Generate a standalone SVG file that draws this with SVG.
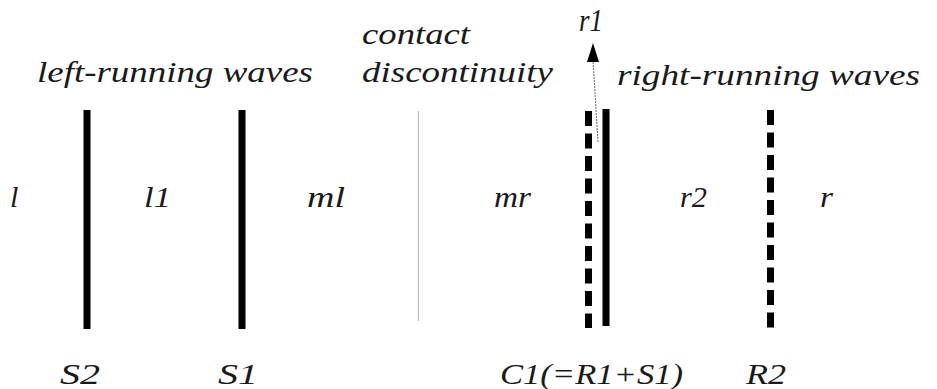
<svg xmlns="http://www.w3.org/2000/svg" width="937" height="389" viewBox="0 0 937 389">
<style>
text{font-family:"Liberation Serif","DejaVu Serif",serif;font-style:italic;font-size:30px;fill:#1a1a1a}
.thick{stroke:#000;stroke-width:7;fill:none}
.dash{stroke:#000;stroke-width:7;stroke-dasharray:15 7.5;fill:none}
</style>
<rect width="937" height="389" fill="#fff"/>
<g id="labels-top">
<text x="37" y="82" textLength="276" lengthAdjust="spacingAndGlyphs">left-running waves</text>
<text x="362" y="44" textLength="108" lengthAdjust="spacingAndGlyphs">contact</text>
<text x="362" y="82" textLength="191" lengthAdjust="spacingAndGlyphs">discontinuity</text>
<text x="617" y="85" textLength="303" lengthAdjust="spacingAndGlyphs">right-running waves</text>
<text x="579" y="31" textLength="24" lengthAdjust="spacingAndGlyphs" style="font-size:32px">r1</text>
</g>
<g id="S2"><line class="thick" x1="87" y1="110" x2="87" y2="329"/><text x="60" y="384" textLength="40" lengthAdjust="spacingAndGlyphs">S2</text></g>
<g id="S1"><line class="thick" x1="242" y1="110" x2="242" y2="329"/><text x="218" y="384" textLength="40" lengthAdjust="spacingAndGlyphs">S1</text></g>
<g id="CD"><line x1="418.5" y1="111" x2="418.5" y2="321" stroke="#bbb" stroke-width="1.2"/></g>
<g id="C1">
<line class="dash" x1="588.5" y1="111" x2="588.5" y2="328"/>
<line class="thick" x1="606" y1="109" x2="606" y2="326"/>
<text x="500" y="384" textLength="183" lengthAdjust="spacingAndGlyphs">C1(=R1+S1)</text>
</g>
<g id="R2"><line class="dash" x1="770.5" y1="110" x2="770.5" y2="328"/><text x="746" y="384" textLength="40" lengthAdjust="spacingAndGlyphs">R2</text></g>
<g id="regions">
<text x="10" y="207">l</text>
<text x="144" y="207" textLength="27" lengthAdjust="spacingAndGlyphs">l1</text>
<text x="307" y="207" textLength="38" lengthAdjust="spacingAndGlyphs">ml</text>
<text x="494" y="207" textLength="37" lengthAdjust="spacingAndGlyphs">mr</text>
<text x="680" y="207" textLength="27" lengthAdjust="spacingAndGlyphs">r2</text>
<text x="820" y="207" textLength="13" lengthAdjust="spacingAndGlyphs">r</text>
</g>
<g id="connectors">
<line x1="598" y1="142" x2="593" y2="60" stroke="#666" stroke-width="1" stroke-dasharray="2 1"/>
<polygon points="593,43 587,62 599,62" fill="#000"/>
</g>
</svg>
